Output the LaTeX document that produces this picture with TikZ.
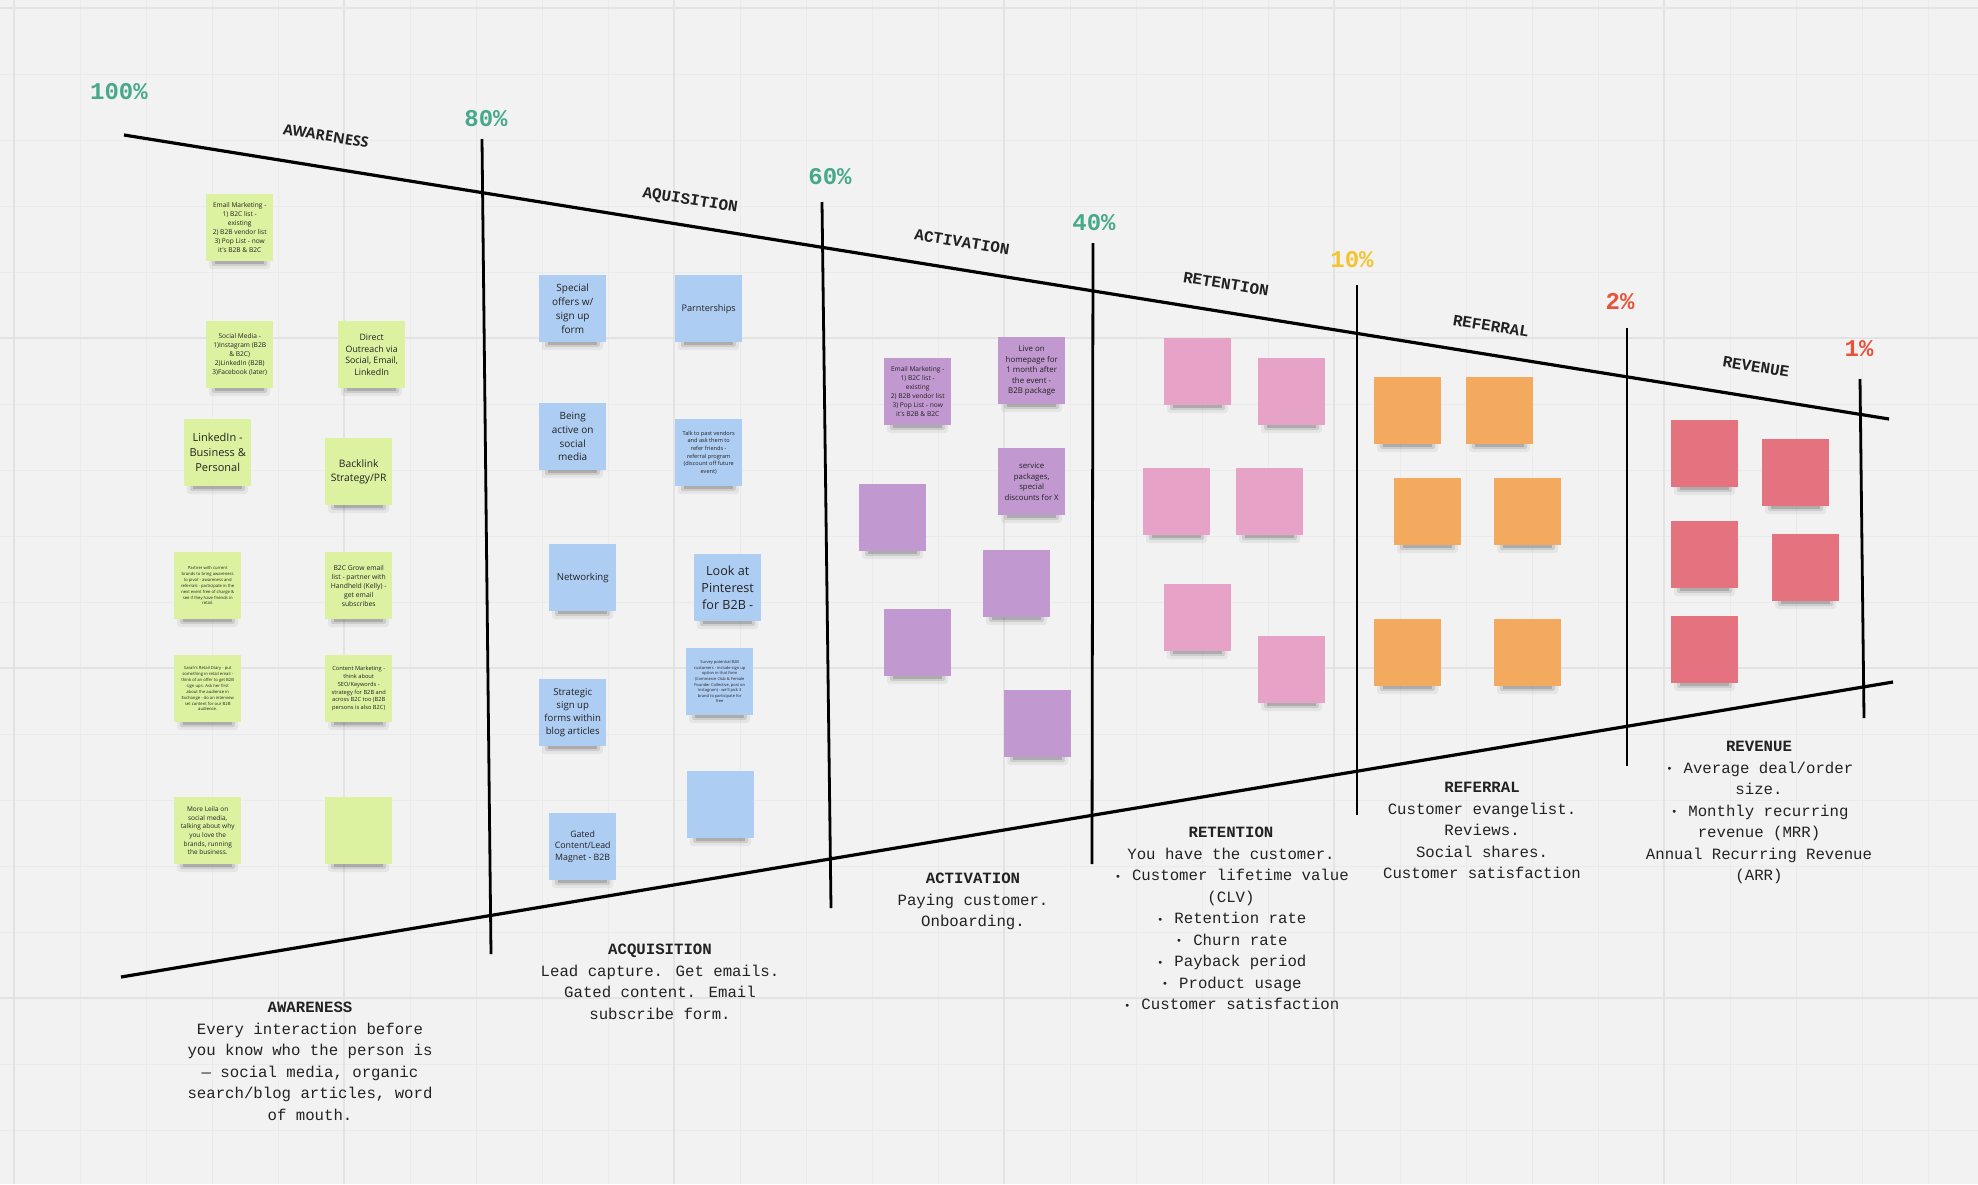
\documentclass[tikz,border=0pt]{standalone}
\usepackage{fontspec}
\setmainfont{Open Sans}
\newfontfamily\notefont{Open Sans}
\newfontfamily\mono{Liberation Mono}
\newfontfamily\dejavu{DejaVu Sans}
\definecolor{bg}{HTML}{F2F2F2}
\definecolor{gmin}{HTML}{EAEAEA}
\definecolor{gmaj}{HTML}{E3E3E3}
\definecolor{ngreen}{HTML}{DDF2A0}
\definecolor{nblue}{HTML}{AECDF3}
\definecolor{npurple}{HTML}{C198D0}
\definecolor{npink}{HTML}{E6A2C7}
\definecolor{norange}{HTML}{F3A95E}
\definecolor{nred}{HTML}{E5727F}
\definecolor{pgreen}{HTML}{47A88A}
\definecolor{pyellow}{HTML}{F4C430}
\definecolor{pred}{HTML}{E9523A}
\definecolor{ink}{HTML}{222222}
\tikzset{
  note/.style={anchor=north west, minimum width=67pt, minimum height=67pt, inner sep=1pt, align=center, text=ink},
  gridminor/.style={draw=gmin, line width=1pt},
  gridmajor/.style={draw=gmaj, line width=2pt},
  funnel/.style={draw=black, line width=3.2pt},
  divider/.style={draw=black, line width=2.8pt},
  pct/.style={font=\mono\bfseries\fontsize{24}{24}\selectfont, inner sep=0pt},
  stage/.style={font=\mono\bfseries\fontsize{16}{16}\selectfont, text=ink, inner sep=0pt, rotate=-9.1},
  desc/.style={font=\mono\fontsize{15.7}{21.5}\selectfont, align=center, inner sep=0pt, text=ink, anchor=north}
}
\newcommand\bu{\makebox[9.4pt][c]{\dejavu\fontsize{10}{10}\selectfont\raisebox{0.5pt}{•}}\ }
\newcommand\snote[7]{%
  \fill[black,opacity=0.05,rounded corners=3pt] (#2+3,#3+56) rectangle (#2+64,#3+75);
  \fill[black,opacity=0.10,rounded corners=2pt] (#2+6,#3+60) rectangle (#2+61,#3+72);
  \fill[black,opacity=0.16] (#2+9,#3+64) rectangle (#2+58,#3+70);
  \node[note, fill=#4, font={\notefont\fontsize{#5}{#6}\selectfont}] (#1) at (#2,#3) {#7};
}
\begin{document}
\begin{tikzpicture}[x=1pt,y=-1pt]
\useasboundingbox (0,0) rectangle (1978,1184);
\fill[bg] (0,0) rectangle (1978,1184);
\foreach \i in {0,...,29} { \draw[gridminor] ({14+66*\i},0) -- ({14+66*\i},1184); }
\foreach \j in {0,...,17} { \draw[gridminor] (0,{8+66*\j}) -- (1978,{8+66*\j}); }
\foreach \i in {0,...,5} { \draw[gridmajor] ({14+330*\i},0) -- ({14+330*\i},1184); }
\foreach \j in {0,...,3} { \draw[gridmajor] (0,{8+330*\j}) -- (1978,{8+330*\j}); }

% funnel lines
\coordinate (tl) at (124,135);
\coordinate (tr) at (1889,419);
\coordinate (bl) at (121,977);
\coordinate (br) at (1893,682);
\draw[funnel] (tl) -- (tr);
\draw[funnel] (bl) -- (br);

% dividers
\coordinate (v80t) at (482,139);  \coordinate (v80b) at (491,954);
\coordinate (v60t) at (822,202);  \coordinate (v60b) at (831,908);
\coordinate (v40t) at (1093,243); \coordinate (v40b) at (1092,864);
\coordinate (v10t) at (1357,285); \coordinate (v10b) at (1357,815);
\coordinate (v2t) at (1627,328);  \coordinate (v2b) at (1627,766);
\coordinate (v1t) at (1860,379);  \coordinate (v1b) at (1864,718);
\draw[divider] (v80t) -- (v80b);
\draw[divider] (v60t) -- (v60b);
\draw[divider] (v40t) -- (v40b);
\draw[divider] (v10t) -- (v10b);
\draw[divider] (v2t) -- (v2b);
\draw[divider] (v1t) -- (v1b);

% percentages
\node[pct, text=pgreen] (p100) at (119,92) {100\%};
\node[pct, text=pgreen] (p80) at (486,119) {80\%};
\node[pct, text=pgreen] (p60) at (830,177) {60\%};
\node[pct, text=pgreen] (p40) at (1094,223) {40\%};
\node[pct, text=pyellow] (p10) at (1352,260) {10\%};
\node[pct, text=pred] (p2) at (1620,302) {2\%};
\node[pct, text=pred] (p1) at (1859,349) {1\%};

% stage labels
\node[stage, font=\notefont\bfseries\fontsize{14.5}{14.5}\selectfont] (sAw) at (326,136) {AWARENESS};
\node[stage] (sAq) at (690,201) {AQUISITION};
\node[stage] (sAc) at (962,242) {ACTIVATION};
\node[stage] (sRt) at (1226,284) {RETENTION};
\node[stage] (sRf) at (1491,326) {REFERRAL};
\node[stage] (sRv) at (1756,367) {REVENUE};

% green notes
\snote{g1}{206}{194}{ngreen}{6.6}{8.9}{Email Marketing -\\1) B2C list -\\existing\\2) B2B vendor list\\3) Pop List - now\\it's B2B \& B2C}
\snote{g2}{206}{321}{ngreen}{6.6}{9}{Social Media -\\1)Instagram (B2B\\\& B2C)\\2)LinkedIn (B2B)\\3)Facebook (later)}
\snote{g3}{338}{321}{ngreen}{8.8}{11.7}{Direct\\Outreach via\\Social, Email,\\LinkedIn}
\snote{g4}{184}{419}{ngreen}{11}{15}{LinkedIn -\\Business \&\\Personal}
\snote{g5}{325}{438}{ngreen}{10.3}{14}{Backlink\\Strategy/PR}
\snote{g6}{174}{552}{ngreen}{4.2}{5.9}{Partner with current\\brands to bring awareness\\to pivot - awareness and\\referrals - participate in the\\next event free of charge \&\\see if they have friends in\\retail.}
\snote{g7}{325}{552}{ngreen}{6.8}{9}{B2C Grow email\\list - partner with\\Handheld (Kelly) -\\get email\\subscribes}
\snote{g8}{174}{655}{ngreen}{4.2}{5.9}{Sarah's Retail Diary - put\\something in retail email -\\think of an offer to get B2B\\sign ups. Ask her first\\about the audience in\\Exchange - do an interview\\set content for our B2B\\audience.}
\snote{g9}{325}{655}{ngreen}{5.7}{7.7}{Content Marketing -\\think about\\SEO/Keywords -\\strategy for B2B and\\across B2C too (B2B\\persons is also B2C)}
\snote{g10}{174}{797}{ngreen}{6.5}{8.7}{More Leila on\\social media,\\talking about why\\you love the\\brands, running\\the business.}
\snote{g11}{325}{797}{ngreen}{6}{8}{}

% blue notes
\snote{b1}{539}{275}{nblue}{10}{13.7}{Special\\offers w/\\sign up\\form}
\snote{b2}{675}{275}{nblue}{9.1}{12}{Parnterships}
\snote{b3}{539}{403}{nblue}{10}{13.7}{Being\\active on\\social\\media}
\snote{b4}{675}{419}{nblue}{5.6}{7.7}{Talk to past vendors\\and ask them to\\refer friends -\\referral program\\(discount off future\\event)}
\snote{b5}{549}{544}{nblue}{9.6}{12}{Networking}
\snote{b6}{694}{554}{nblue}{12.6}{17.3}{Look at\\Pinterest\\for B2B -}
\snote{b7}{686}{648}{nblue}{4}{5.6}{Survey potential B2B\\customers - include sign up\\option in that form\\(Commerce Club \& Female\\Founder Collective, post on\\Instagram) - we'll pick 3\\brand to participate for\\free}
\snote{b8}{539}{679}{nblue}{9.6}{13}{Strategic\\sign up\\forms within\\blog articles}
\snote{b9}{687}{771}{nblue}{6}{8}{}
\snote{b10}{549}{813}{nblue}{8.8}{12}{Gated\\Content/Lead\\Magnet - B2B}

% purple notes
\snote{u1}{884}{358}{npurple}{6.6}{9}{Email Marketing -\\1) B2C list -\\existing\\2) B2B vendor list\\3) Pop List - now\\it's B2B \& B2C}
\snote{u2}{998}{337}{npurple}{7.9}{10.6}{Live on\\homepage for\\1 month after\\the event -\\B2B package}
\snote{u3}{998}{448}{npurple}{7.8}{10.4}{service\\packages,\\special\\discounts for X}
\snote{u4}{859}{484}{npurple}{6}{8}{}
\snote{u5}{983}{550}{npurple}{6}{8}{}
\snote{u6}{884}{609}{npurple}{6}{8}{}
\snote{u7}{1004}{690}{npurple}{6}{8}{}

% pink notes
\snote{k1}{1164}{338}{npink}{6}{8}{}
\snote{k2}{1258}{358}{npink}{6}{8}{}
\snote{k3}{1143}{468}{npink}{6}{8}{}
\snote{k4}{1236}{468}{npink}{6}{8}{}
\snote{k5}{1164}{584}{npink}{6}{8}{}
\snote{k6}{1258}{636}{npink}{6}{8}{}

% orange notes
\snote{o1}{1374}{377}{norange}{6}{8}{}
\snote{o2}{1466}{377}{norange}{6}{8}{}
\snote{o3}{1394}{478}{norange}{6}{8}{}
\snote{o4}{1494}{478}{norange}{6}{8}{}
\snote{o5}{1374}{619}{norange}{6}{8}{}
\snote{o6}{1494}{619}{norange}{6}{8}{}

% red notes
\snote{r1}{1671}{420}{nred}{6}{8}{}
\snote{r2}{1762}{439}{nred}{6}{8}{}
\snote{r3}{1671}{521}{nred}{6}{8}{}
\snote{r4}{1772}{534}{nred}{6}{8}{}
\snote{r5}{1671}{616}{nred}{6}{8}{}

% descriptions
\node[desc] (dAw) at (310,1002) {\textbf{AWARENESS}\\Every interaction before\\you know who the person is\\— social media, organic\\search/blog articles, word\\of mouth.};
\node[desc] (dAq) at (660,944) {\textbf{ACQUISITION}\\Lead capture. Get emails.\\Gated content. Email\\subscribe form.};
\node[desc] (dAc) at (973,873) {\textbf{ACTIVATION}\\Paying customer.\\Onboarding.};
\node[desc] (dRt) at (1231,827) {\textbf{RETENTION}\\You have the customer.\\\bu Customer lifetime value\\(CLV)\\\bu Retention rate\\\bu Churn rate\\\bu Payback period\\\bu Product usage\\\bu Customer satisfaction};
\node[desc] (dRf) at (1482,782) {\textbf{REFERRAL}\\Customer evangelist.\\Reviews.\\Social shares.\\Customer satisfaction};
\node[desc] (dRv) at (1759,741) {\textbf{REVENUE}\\\bu Average deal/order\\size.\\\bu Monthly recurring\\revenue (MRR)\\Annual Recurring Revenue\\(ARR)};
\end{tikzpicture}
\end{document}
